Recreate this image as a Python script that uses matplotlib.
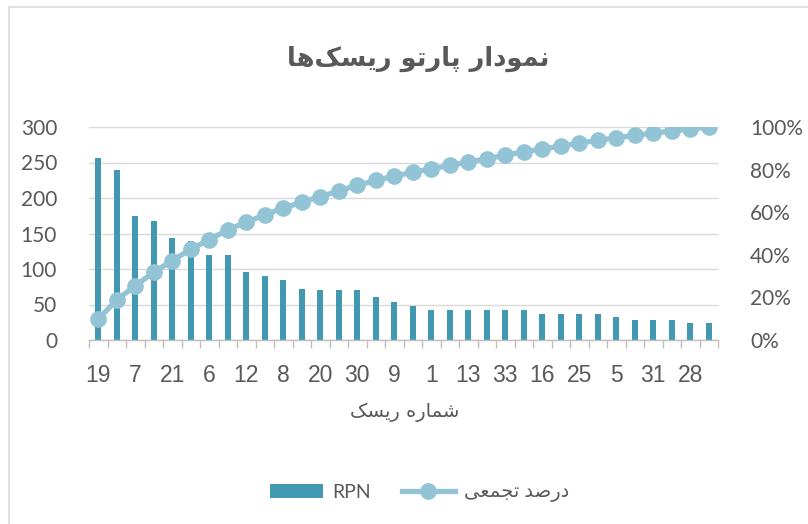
import matplotlib
matplotlib.use("Agg")
import matplotlib.pyplot as plt
from matplotlib.patches import Rectangle
from matplotlib.ticker import FixedLocator, FuncFormatter

# risk ids (every other one is labelled on the axis)
risk_ids = ["19", "2", "7", "3", "21", "4", "6", "10", "12", "11", "8", "14",
            "20", "15", "30", "17", "9", "18", "1", "22", "13", "23", "33", "24",
            "16", "26", "25", "27", "5", "29", "31", "32", "28", "34"]
rpn = [256, 240, 175, 168, 144, 140, 120, 120, 96, 90, 84, 72,
       70, 70, 70, 60, 54, 48, 42, 42, 42, 42, 42, 42,
       36, 36, 36, 36, 32, 28, 28, 28, 24, 24]
cum_pct = [9.71, 18.81, 25.45, 31.82, 37.28, 42.59, 47.14, 51.69, 55.33, 58.74,
           61.93, 64.66, 67.31, 69.97, 72.62, 74.90, 76.94, 78.76, 80.36, 81.95,
           83.54, 85.13, 86.73, 88.32, 89.68, 91.05, 92.42, 93.78, 94.99, 96.06,
           97.12, 98.18, 99.09, 100.0]
left_ticks = [0, 50, 100, 150, 200, 250, 300]
right_ticks = [0, 20, 40, 60, 80, 100]

TITLE = "نمودار پارتو ریسک\u200cها"
XLABEL = "شماره ریسک"
LEG_RPN = "RPN"
LEG_CUM = "درصد تجمعی"

BAR_COLOR = "#4198B0"
LINE_COLOR = "#93C4D6"
TEXT = "#595959"
GRID = "#D9D9D9"

# presentation forms: (isolated, final, initial, medial)
FORMS = {
    "ن": ("\uFEE5", "\uFEE6", "\uFEE7", "\uFEE8"),
    "م": ("\uFEE1", "\uFEE2", "\uFEE3", "\uFEE4"),
    "پ": ("\uFB56", "\uFB57", "\uFB58", "\uFB59"),
    "ت": ("\uFE95", "\uFE96", "\uFE97", "\uFE98"),
    "ی": ("\uFBFC", "\uFBFD", "\uFBFE", "\uFBFF"),
    "س": ("\uFEB1", "\uFEB2", "\uFEB3", "\uFEB4"),
    "ک": ("\uFB8E", "\uFB8F", "\uFB90", "\uFB91"),
    "ه": ("\uFEE9", "\uFEEA", "\uFEEB", "\uFEEC"),
    "ش": ("\uFEB5", "\uFEB6", "\uFEB7", "\uFEB8"),
    "ص": ("\uFEB9", "\uFEBA", "\uFEBB", "\uFEBC"),
    "ج": ("\uFE9D", "\uFE9E", "\uFE9F", "\uFEA0"),
    "ع": ("\uFEC9", "\uFECA", "\uFECB", "\uFECC"),
    "و": ("\uFEED", "\uFEEE"),
    "د": ("\uFEA9", "\uFEAA"),
    "ا": ("\uFE8D", "\uFE8E"),
    "ر": ("\uFEAD", "\uFEAE"),
}


def shape(text):
    """Very small Persian shaper: joining forms + visual (reversed) order."""
    out = []
    for i, ch in enumerate(text):
        if ch not in FORMS:
            if ch != "\u200c":
                out.append(ch)
            continue
        prev = text[i - 1] if i > 0 else ""
        nxt = text[i + 1] if i + 1 < len(text) else ""
        join_prev = prev in FORMS and len(FORMS[prev]) == 4
        join_next = len(FORMS[ch]) == 4 and nxt in FORMS
        f = FORMS[ch]
        if join_prev and join_next:
            out.append(f[3])
        elif join_prev:
            out.append(f[1])
        elif join_next:
            out.append(f[2])
        else:
            out.append(f[0])
    return "".join(reversed(out))


fig = plt.figure(figsize=(8.08, 5.24), dpi=100)
fig.patches.append(Rectangle((9 / 808, -0.05), 1.2, (524 - 7) / 524 + 0.05,
                             transform=fig.transFigure, fill=False,
                             edgecolor="#D9D9D9", linewidth=1.2))

ax = fig.add_axes([89 / 808, (524 - 340) / 524, (718 - 89) / 808, 213 / 524])
x = list(range(len(rpn)))
ax.bar(x, rpn, width=0.3, color=BAR_COLOR, zorder=2, label=LEG_RPN)
ax.set_xlim(-0.5, len(rpn) - 0.5)
ax.set_ylim(0, 300)
ax.set_yticks(left_ticks)
ax.grid(axis="y", color=GRID, linewidth=1, zorder=0)
ax.set_axisbelow(True)
for s in ["top", "right", "left"]:
    ax.spines[s].set_visible(False)
ax.spines["bottom"].set_color("#BFBFBF")
ax.spines["bottom"].set_linewidth(1)

ax.xaxis.set_major_locator(FixedLocator(x[::2]))
ax.set_xticklabels(risk_ids[::2], fontsize=16.5, color=TEXT, family="Liberation Sans")
ax.xaxis.set_minor_locator(FixedLocator([i - 0.5 for i in range(len(rpn) + 1)]))
ax.tick_params(axis="x", which="major", length=0, pad=17)
ax.tick_params(axis="x", which="minor", length=6, color="#BFBFBF", width=1)
ax.tick_params(axis="y", length=0, pad=23, labelsize=15, labelcolor=TEXT)
for t in ax.get_yticklabels():
    t.set_family("Lato")

ax2 = ax.twinx()
ax2.plot(x, cum_pct, color=LINE_COLOR, linewidth=3.8, marker="o",
         markersize=11, zorder=3, label=LEG_CUM)
ax2.set_ylim(0, 100)
ax2.set_yticks(right_ticks)
ax2.yaxis.set_major_formatter(FuncFormatter(lambda v, p: f"{v:.0f}%"))
ax2.tick_params(axis="y", length=0, pad=23, labelsize=15, labelcolor=TEXT)
for t in ax2.get_yticklabels():
    t.set_family("Lato")
for s in ax2.spines.values():
    s.set_visible(False)

fig.text(418 / 808, 1 - 59 / 524, shape(TITLE), ha="center", va="center",
         fontsize=18.5, fontweight="bold", color=TEXT, family="DejaVu Sans")
fig.text(405 / 808, 1 - 412 / 524, shape(XLABEL), ha="center", va="center",
         fontsize=14, color=TEXT, family="DejaVu Sans")

h1, l1 = ax.get_legend_handles_labels()
h2, l2 = ax2.get_legend_handles_labels()
leg = fig.legend(h1 + h2, [LEG_RPN, shape(LEG_CUM)], loc="center",
                 bbox_to_anchor=(420 / 808, 1 - 493 / 524), ncol=2, frameon=False,
                 handlelength=2.7, handleheight=0.7, columnspacing=1.6,
                 handletextpad=0.5, fontsize=14)
for t in leg.get_texts():
    t.set_color(TEXT)
    t.set_family(["Lato", "DejaVu Sans"])

fig.savefig("out.png", dpi=100)
